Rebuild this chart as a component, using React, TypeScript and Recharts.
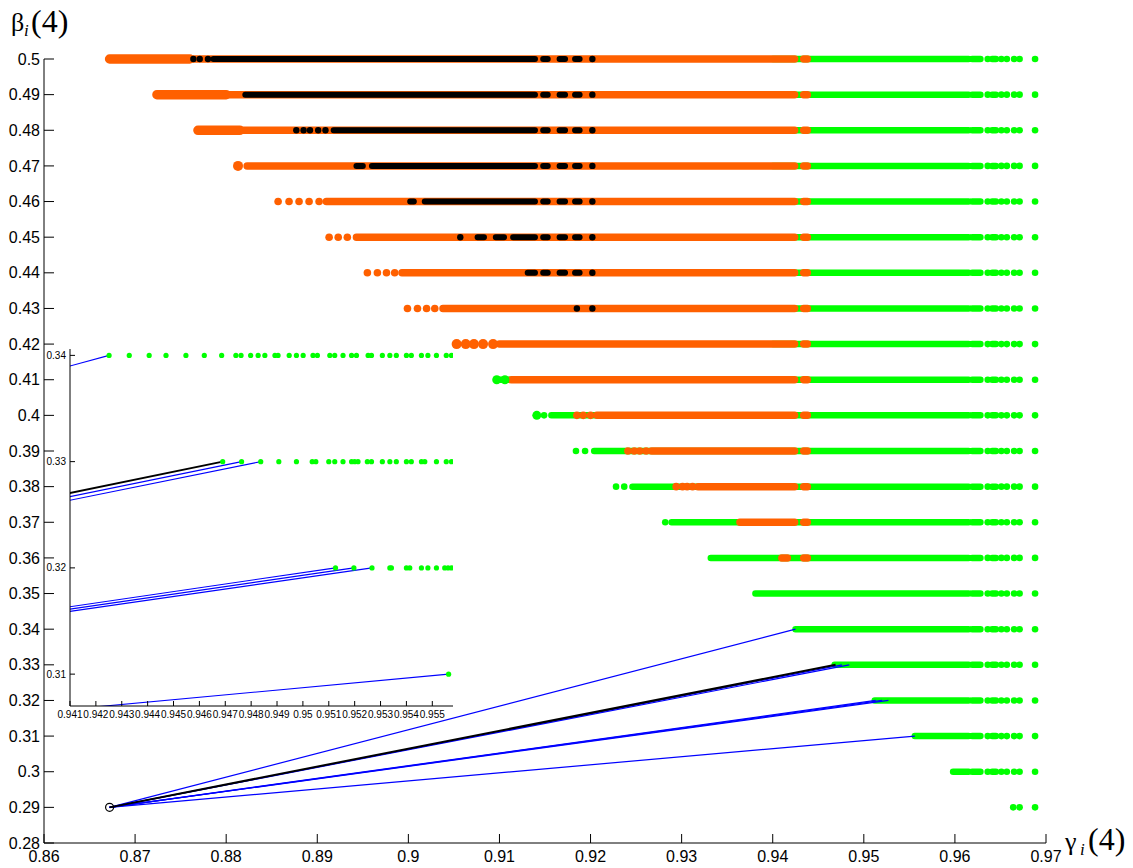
import React from "react";
import { ComposedChart, Line, Scatter, XAxis, YAxis } from "recharts";

// runs are [beta, gammaFrom, gammaTo] (a dense row of markers), dots are [beta, gamma]
type Run = [number, number, number];
type Dot = [number, number];

const xTicks = [0.86, 0.87, 0.88, 0.89, 0.9, 0.91, 0.92, 0.93, 0.94, 0.95, 0.96, 0.97];
const yTicks = [
  0.28, 0.29, 0.3, 0.31, 0.32, 0.33, 0.34, 0.35, 0.36, 0.37, 0.38, 0.39, 0.4, 0.41, 0.42, 0.43,
  0.44, 0.45, 0.46, 0.47, 0.48, 0.49, 0.5,
];
const insetXTicks = [
  0.941, 0.942, 0.943, 0.944, 0.945, 0.946, 0.947, 0.948, 0.949, 0.95, 0.951, 0.952, 0.953, 0.954,
  0.955,
];
const insetYTicks = [0.31, 0.32, 0.33, 0.34];

const greenRuns: Run[] = [
  [0.5, 0.94, 0.9615],
  [0.49, 0.94, 0.9615],
  [0.48, 0.94, 0.9615],
  [0.47, 0.94, 0.9615],
  [0.46, 0.94, 0.9615],
  [0.45, 0.94, 0.9615],
  [0.44, 0.94, 0.9615],
  [0.43, 0.94, 0.9615],
  [0.42, 0.94, 0.9615],
  [0.41, 0.9097, 0.9615],
  [0.4, 0.9157, 0.9615],
  [0.39, 0.9204, 0.9615],
  [0.38, 0.9246, 0.9615],
  [0.37, 0.9289, 0.9615],
  [0.36, 0.9332, 0.9615],
  [0.35, 0.9381, 0.9615],
  [0.34, 0.9425, 0.9615],
  [0.33, 0.9468, 0.9615],
  [0.32, 0.9512, 0.9615],
  [0.31, 0.9556, 0.9615],
  [0.3, 0.9598, 0.9615],
];
const greenBigDots: Dot[] = [
  [0.41, 0.9097],
  [0.41, 0.9106],
  [0.4, 0.9141],
];
const greenDots: Dot[] = [
  [0.4, 0.9149],
  [0.39, 0.9184],
  [0.39, 0.9194],
  [0.38, 0.9228],
  [0.38, 0.9237],
  [0.37, 0.9282],
  [0.29, 0.9664],
  [0.29, 0.9671],
  [0.29, 0.9688],
];
// the sparse right-hand end, the same on rows 0.5 .. 0.3
const tailRows = [
  0.5, 0.49, 0.48, 0.47, 0.46, 0.45, 0.44, 0.43, 0.42, 0.41, 0.4, 0.39, 0.38, 0.37, 0.36, 0.35,
  0.34, 0.33, 0.32, 0.31, 0.3,
];
const greenTailRuns: [number, number][] = [
  [0.9619, 0.9628],
  [0.9641, 0.9645],
];
const greenTailDots = [0.9636, 0.9651, 0.9657, 0.9665, 0.9671, 0.9688];

const orangeBigRuns: Run[] = [
  [0.5, 0.8672, 0.876],
  [0.49, 0.8724, 0.88],
  [0.48, 0.8769, 0.8815],
];
const orangeRuns: Run[] = [
  [0.5, 0.876, 0.9424],
  [0.49, 0.88, 0.9424],
  [0.48, 0.8815, 0.9424],
  [0.47, 0.8823, 0.9424],
  [0.46, 0.891, 0.9424],
  [0.45, 0.8943, 0.9424],
  [0.44, 0.8993, 0.9424],
  [0.43, 0.9038, 0.9424],
  [0.42, 0.91, 0.9424],
  [0.41, 0.9113, 0.9424],
  [0.4, 0.9207, 0.9424],
  [0.39, 0.9267, 0.9424],
  [0.38, 0.9318, 0.9424],
  [0.37, 0.9364, 0.9424],
  [0.36, 0.941, 0.9416],
];
const orangeTailRows = [0.5, 0.49, 0.48, 0.47, 0.46, 0.45, 0.44, 0.43, 0.42, 0.41, 0.4, 0.39, 0.38, 0.37, 0.36];
const orangeTailRun: [number, number] = [0.9434, 0.9438];
const orangeBigDots: Dot[] = [
  [0.47, 0.8813],
  [0.42, 0.9053],
  [0.42, 0.9063],
  [0.42, 0.9072],
  [0.42, 0.9082],
  [0.42, 0.9093],
];
const orangeDots: Dot[] = [
  [0.46, 0.8857], [0.46, 0.8869], [0.46, 0.888], [0.46, 0.8891], [0.46, 0.8902],
  [0.45, 0.8913], [0.45, 0.8923], [0.45, 0.8933],
  [0.44, 0.8955], [0.44, 0.8966], [0.44, 0.8976], [0.44, 0.8985],
  [0.43, 0.8999], [0.43, 0.901], [0.43, 0.902], [0.43, 0.9029],
  [0.4, 0.9185], [0.4, 0.9192], [0.4, 0.92],
  [0.39, 0.9241], [0.39, 0.9248], [0.39, 0.9254], [0.39, 0.9261],
  [0.38, 0.9294], [0.38, 0.9301], [0.38, 0.9306], [0.38, 0.9312],
];

const blackRuns: Run[] = [
  [0.5, 0.8786, 0.9139],
  [0.49, 0.8821, 0.9139],
  [0.48, 0.8918, 0.9139],
  [0.47, 0.8943, 0.895],
  [0.47, 0.896, 0.9139],
  [0.46, 0.9002, 0.9006],
  [0.46, 0.9018, 0.9139],
  [0.45, 0.9076, 0.9083],
  [0.45, 0.9096, 0.9105],
  [0.45, 0.9115, 0.9139],
  [0.44, 0.9131, 0.9139],
];
const blackTailRows = [0.5, 0.49, 0.48, 0.47, 0.46, 0.45, 0.44];
const blackTailRuns: [number, number][] = [
  [0.9148, 0.9153],
  [0.9166, 0.9172],
  [0.9183, 0.9188],
];
const blackTailDot = 0.9202;
const blackDots: Dot[] = [
  [0.5, 0.8764], [0.5, 0.8771], [0.5, 0.878],
  [0.48, 0.8877], [0.48, 0.8885], [0.48, 0.8892], [0.48, 0.8901], [0.48, 0.8909],
  [0.45, 0.9057],
  [0.43, 0.9185], [0.43, 0.9202],
];

// rays from the start point to the first point of the lowest rows
const origin = { x: 0.8672, y: 0.29 };
const rayEnds: Dot[] = [
  [0.34, 0.9425],
  [0.33, 0.9476],
  [0.33, 0.9484],
  [0.32, 0.9513],
  [0.32, 0.952],
  [0.32, 0.9527],
  [0.31, 0.9556],
  [0.33, 0.9469],
];
const rayColors = ["#0000ff", "#0000ff", "#0000ff", "#0000ff", "#0000ff", "#0000ff", "#0000ff", "#000000"];

// zoomed view
const inset034 = [
  0.94251, 0.94329, 0.94406, 0.94471, 0.94548, 0.94619, 0.94686, 0.94741, 0.94761, 0.94798,
  0.94827, 0.94853, 0.94892, 0.94904, 0.94947, 0.94975, 0.95001, 0.95039, 0.95056, 0.95104,
  0.95123, 0.95155, 0.95188, 0.95207, 0.95252, 0.95265, 0.95307, 0.95336, 0.95361, 0.954,
  0.95419, 0.95458, 0.95483, 0.95516, 0.95554, 0.95574,
];
const inset033 = [
  0.9469, 0.94763, 0.94837, 0.94907, 0.94975, 0.95036, 0.9505, 0.951, 0.95123, 0.95155, 0.95188,
  0.952, 0.95213, 0.95249, 0.95265, 0.95307, 0.95336, 0.95361, 0.954, 0.95419, 0.95458, 0.95471,
  0.95516, 0.95554, 0.95574,
];
const inset032 = [
  0.95126, 0.95197, 0.95267, 0.95336, 0.95342, 0.954, 0.95413, 0.95458, 0.95483, 0.95516,
  0.95548, 0.95561, 0.95574,
];
const inset031 = [0.95563];
const insetRays: Dot[] = [
  [0.34, 0.94251],
  [0.33, 0.94763],
  [0.33, 0.94837],
  [0.32, 0.95126],
  [0.32, 0.95197],
  [0.32, 0.95267],
  [0.31, 0.95563],
  [0.33, 0.9469],
];

const GREEN = "#00ff00";
const ORANGE = "#ff6000";
const FONT = "'Liberation Sans', Arial, Helvetica, sans-serif";
const SERIF = "'Liberation Serif', 'Times New Roman', serif";

const runData = (runs: Run[]) =>
  runs.flatMap(([y, a, b]) => [
    { x: a, y },
    { x: b, y },
    { x: b, y: null },
  ]);
const dotData = (dots: Dot[]) => dots.map(([y, x]) => ({ x, y }));
const dot = (r: number, fill: string) => (p: any) => <circle cx={p.cx} cy={p.cy} r={r} fill={fill} />;

const allGreenRuns: Run[] = greenRuns.concat(
  tailRows.flatMap((y) => greenTailRuns.map(([a, b]) => [y, a, b] as Run))
);
const allGreenDots: Dot[] = greenDots.concat(tailRows.flatMap((y) => greenTailDots.map((x) => [y, x] as Dot)));
const allOrangeRuns: Run[] = orangeRuns.concat(
  orangeTailRows.map((y) => [y, orangeTailRun[0], orangeTailRun[1]] as Run)
);
const allBlackRuns: Run[] = blackRuns.concat(
  blackTailRows.flatMap((y) => blackTailRuns.map(([a, b]) => [y, a, b] as Run))
);
const allBlackDots: Dot[] = blackDots.concat(blackTailRows.map((y) => [y, blackTailDot] as Dot));

const insetDots = [
  ...inset034.map((x) => ({ x, y: 0.34 })),
  ...inset033.map((x) => ({ x, y: 0.33 })),
  ...inset032.map((x) => ({ x, y: 0.32 })),
  ...inset031.map((x) => ({ x, y: 0.31 })),
];

const fmt = (v: number) => String(Number(v.toFixed(3)));

function MainChart() {
  return (
    <ComposedChart width={1133} height={868} margin={{ top: 59, right: 87, bottom: 0, left: 4 }}>
      <XAxis
        type="number"
        dataKey="x"
        domain={[0.86, 0.97]}
        ticks={xTicks}
        interval={0}
        height={25}
        tickSize={-9}
        tickMargin={17}
        tickFormatter={fmt}
        axisLine={{ stroke: "#000" }}
        tickLine={{ stroke: "#000" }}
        tick={{ fill: "#000", fontSize: 16, fontFamily: FONT }}
      />
      <YAxis
        type="number"
        dataKey="y"
        domain={[0.28, 0.5]}
        ticks={yTicks}
        interval={0}
        width={40}
        tickSize={-10}
        tickMargin={14}
        tickFormatter={fmt}
        axisLine={{ stroke: "#000" }}
        tickLine={{ stroke: "#000" }}
        tick={{ fill: "#000", fontSize: 16, fontFamily: FONT }}
      />
      <Line data={runData(allGreenRuns)} dataKey="y" stroke={GREEN} strokeWidth={6.5} strokeLinecap="round" dot={false} activeDot={false} isAnimationActive={false} />
      <Line data={runData(orangeBigRuns)} dataKey="y" stroke={ORANGE} strokeWidth={9.5} strokeLinecap="round" dot={false} activeDot={false} isAnimationActive={false} />
      <Line data={runData(allOrangeRuns)} dataKey="y" stroke={ORANGE} strokeWidth={7.5} strokeLinecap="round" dot={false} activeDot={false} isAnimationActive={false} />
      <Line data={runData(allBlackRuns)} dataKey="y" stroke="#000" strokeWidth={6} strokeLinecap="round" dot={false} activeDot={false} isAnimationActive={false} />
      {rayEnds.map(([y, x], i) => (
        <Line
          key={"ray" + i}
          data={[origin, { x, y }]}
          dataKey="y"
          stroke={rayColors[i]}
          strokeWidth={rayColors[i] === "#000000" ? 2 : 1.2}
          dot={false}
          activeDot={false}
          isAnimationActive={false}
        />
      ))}
      <Scatter data={dotData(allGreenDots)} shape={dot(3.3, GREEN)} isAnimationActive={false} />
      <Scatter data={dotData(greenBigDots)} shape={dot(4.5, GREEN)} isAnimationActive={false} />
      <Scatter data={dotData(orangeDots)} shape={dot(3.8, ORANGE)} isAnimationActive={false} />
      <Scatter data={dotData(orangeBigDots)} shape={dot(5, ORANGE)} isAnimationActive={false} />
      <Scatter data={dotData(allBlackDots)} shape={dot(3.2, "#000")} isAnimationActive={false} />
      <Scatter
        data={[origin]}
        shape={(p: any) => <circle cx={p.cx} cy={p.cy} r={4} fill="none" stroke="#000" strokeWidth={1.2} />}
        isAnimationActive={false}
      />
    </ComposedChart>
  );
}

function InsetChart() {
  return (
    <ComposedChart width={440} height={390} margin={{ top: 9, right: 7, bottom: 0, left: 10 }}>
      <XAxis
        type="number"
        dataKey="x"
        domain={[0.941, 0.9558]}
        allowDataOverflow
        ticks={insetXTicks}
        interval={0}
        height={24}
        tickSize={-5}
        tickMargin={10}
        tickFormatter={fmt}
        axisLine={{ stroke: "#000" }}
        tickLine={{ stroke: "#000" }}
        tick={{ fill: "#000", fontSize: 10, fontFamily: FONT }}
      />
      <YAxis
        type="number"
        dataKey="y"
        domain={[0.307, 0.3406]}
        allowDataOverflow
        ticks={insetYTicks}
        interval={0}
        width={40}
        tickSize={-5}
        tickMargin={9}
        tickFormatter={fmt}
        axisLine={{ stroke: "#000" }}
        tickLine={{ stroke: "#000" }}
        tick={{ fill: "#000", fontSize: 10, fontFamily: FONT }}
      />
      {insetRays.map(([y, x], i) => (
        <Line
          key={"iray" + i}
          data={[origin, { x, y }]}
          dataKey="y"
          stroke={rayColors[i]}
          strokeWidth={rayColors[i] === "#000000" ? 2 : 1.1}
          dot={false}
          activeDot={false}
          isAnimationActive={false}
        />
      ))}
      <Scatter data={insetDots} shape={dot(2.6, GREEN)} isAnimationActive={false} />
    </ComposedChart>
  );
}

export default function App() {
  return (
    <div style={{ position: "absolute", left: 0, top: 0, width: 1133, height: 868, background: "#fff" }}>
      <div style={{ position: "absolute", left: 0, top: 0 }}>
        <MainChart />
      </div>
      <div style={{ position: "absolute", left: 20, top: 340 }}>
        <InsetChart />
      </div>
      <svg
        width={1133}
        height={868}
        style={{ position: "absolute", left: 0, top: 0, pointerEvents: "none" }}
      >
        <text x={11} y={31} fontSize={26} fontFamily={SERIF} fill="#000">
          β
        </text>
        <text x={24} y={36} fontSize={17} fontStyle="italic" fontFamily={SERIF} fill="#000">
          i
        </text>
        <text x={31} y={32} fontSize={32} fontFamily={SERIF} fill="#000">
          (4)
        </text>
        <text x={1065} y={850} fontSize={26} fontFamily={SERIF} fill="#000">
          γ
        </text>
        <text x={1080} y={855} fontSize={17} fontStyle="italic" fontFamily={SERIF} fill="#000">
          i
        </text>
        <text x={1088} y={850} fontSize={32} fontFamily={SERIF} fill="#000">
          (4)
        </text>
      </svg>
    </div>
  );
}
